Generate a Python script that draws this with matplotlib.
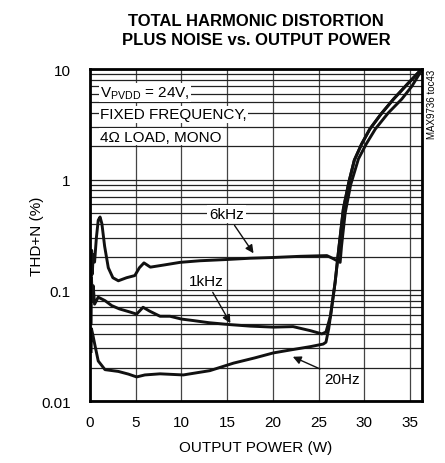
import numpy as np
import matplotlib
matplotlib.use("Agg")
import matplotlib.pyplot as plt

plt.rcParams['font.family'] = ['Liberation Sans Narrow', 'Liberation Sans', 'DejaVu Sans']

# THD+N (%) vs output power (W)
p_6k = [0.12, 0.18, 0.25, 0.35, 0.5, 0.7, 0.9, 1.1, 1.3, 1.6, 2.0, 2.5, 3.1, 4.0, 4.9, 5.4, 5.9, 6.6,
        8.2, 9.85, 12.0, 15.0, 17.5, 20.0, 23.0, 25.9, 26.5, 27.35, 27.5, 27.9, 28.5, 29.35, 30.2,
        31.2, 32.6, 34.1, 35.2, 36.0, 36.3]
thd_6k = [0.1, 0.23, 0.14, 0.21, 0.18, 0.3, 0.43, 0.46, 0.4, 0.25, 0.16, 0.13, 0.122, 0.13, 0.136,
          0.16, 0.177, 0.162, 0.17, 0.179, 0.185, 0.19, 0.195, 0.198, 0.203, 0.206, 0.195, 0.179,
          0.25, 0.5, 0.9, 1.54, 2.1, 2.87, 4.0, 5.36, 7.0, 9.0, 10.0]

p_1k = [0.12, 0.16, 0.25, 0.35, 0.5, 0.9, 1.64, 2.37, 3.2, 4.2, 5.1, 5.8, 6.5, 7.66, 8.75, 10.0,
        11.3, 13.0, 15.3, 17.5, 20.05, 22.2, 24.1, 25.35, 25.8, 26.3, 26.8, 27.2, 27.7, 28.3, 28.9,
        29.7, 30.6, 31.8, 33.2, 34.7, 36.1, 36.3]
thd_1k = [0.05, 0.13, 0.08, 0.11, 0.075, 0.0867, 0.0807, 0.0728, 0.068, 0.0643, 0.061, 0.0703,
          0.065, 0.0583, 0.0583, 0.055, 0.0533, 0.051, 0.049, 0.0475, 0.0465, 0.047, 0.0432, 0.0404,
          0.042, 0.059, 0.118, 0.237, 0.543, 0.946, 1.5, 2.1, 2.87, 3.9, 5.36, 7.3, 9.66, 10.0]

p_20 = [0.12, 0.16, 0.3, 0.55, 0.9, 1.64, 3.1, 4.2, 5.1, 6.0, 7.66, 10.2, 13.1, 15.7, 18.0, 20.05,
        22.0, 24.1, 25.5, 25.8, 26.1, 26.3, 26.8, 27.2, 27.7, 28.3, 28.9, 29.7, 30.6, 31.8, 33.2,
        34.7, 36.1, 36.3]
thd_20 = [0.028, 0.045, 0.04, 0.0316, 0.023, 0.0192, 0.0185, 0.0175, 0.0165, 0.0172, 0.0176,
          0.0172, 0.0188, 0.022, 0.0245, 0.0272, 0.029, 0.031, 0.0327, 0.034, 0.045, 0.059, 0.118,
          0.237, 0.543, 0.946, 1.5, 2.1, 2.87, 3.9, 5.36, 7.3, 9.66, 10.0]

x_ticks = [0, 5, 10, 15, 20, 25, 30, 35]
y_ticks = [0.01, 0.1, 1, 10]
y_tick_labels = ['0.01', '0.1', '1', '10']

fig = plt.figure(figsize=(4.45, 4.64), dpi=100)
ax = fig.add_axes([90 / 445, 1 - 402 / 464, 332 / 445, 332 / 464])

ax.set_yscale('log')
ax.set_xlim(0, 36.3)
ax.set_ylim(0.01, 10)

minor = [m * 10.0 ** e for e in (-2, -1, 0) for m in range(2, 10)]
ax.set_yticks(y_ticks)
ax.set_yticklabels(y_tick_labels)
ax.set_yticks(minor, minor=True)
ax.set_yticklabels([], minor=True)
ax.set_xticks(x_ticks)
ax.tick_params(which='both', length=0, labelsize=11)
ax.tick_params(axis='y', pad=14)
ax.tick_params(axis='x', pad=10)
ax.grid(True, which='both', axis='y', color='#222222', lw=0.9)
ax.grid(True, which='major', axis='x', color='#444444', lw=0.9)
ax.set_axisbelow(True)
for s in ax.spines.values():
    s.set_linewidth(2)

lw = 2.1
ax.plot(p_20, thd_20, color='#111111', lw=lw, solid_joinstyle='round')
ax.plot(p_1k, thd_1k, color='#111111', lw=lw, solid_joinstyle='round')
ax.plot(p_6k, thd_6k, color='#111111', lw=lw, solid_joinstyle='round')

box = dict(facecolor='white', edgecolor='none', pad=1)
ax.text(1.1, 6.1, r'V$_{\mathregular{PVDD}}$ = 24V,', fontsize=11, va='center', ha='left', bbox=box)
ax.text(1.1, 3.9, 'FIXED FREQUENCY,', fontsize=11, va='center', ha='left', bbox=box)
ax.text(1.1, 2.45, '4Ω LOAD, MONO', fontsize=11, va='center', ha='left', bbox=box)

arrow = dict(arrowstyle='-|>', color='#111111', lw=1.0, mutation_scale=12)
ax.annotate('6kHz', xy=(18.05, 0.206), xytext=(14.95, 0.49), fontsize=11, ha='center',
            va='center', bbox=dict(facecolor='white', edgecolor='none', pad=1.5), arrowprops=arrow)
ax.annotate('1kHz', xy=(15.5, 0.048), xytext=(12.7, 0.122), fontsize=11, ha='center',
            va='center', bbox=dict(facecolor='white', edgecolor='none', pad=1.5), arrowprops=arrow)
ax.annotate('20Hz', xy=(21.9, 0.0257), xytext=(27.6, 0.0158), fontsize=11, ha='center',
            va='center', bbox=dict(facecolor='white', edgecolor='none', pad=1.5), arrowprops=arrow)

ax.set_xlabel('OUTPUT POWER (W)', fontsize=11, labelpad=8)
ax.set_ylabel('THD+N (%)', fontsize=11, labelpad=-2)

fig.text(256 / 445, 1 - 31 / 464, 'TOTAL HARMONIC DISTORTION\nPLUS NOISE vs. OUTPUT POWER',
         ha='center', va='center', fontsize=12, fontweight='bold', linespacing=1.4)
fig.text(432 / 445, 1 - 70 / 464, 'MAX9736 toc43', rotation=90, ha='center', va='top', fontsize=7)

fig.savefig('out.png', dpi=100)
